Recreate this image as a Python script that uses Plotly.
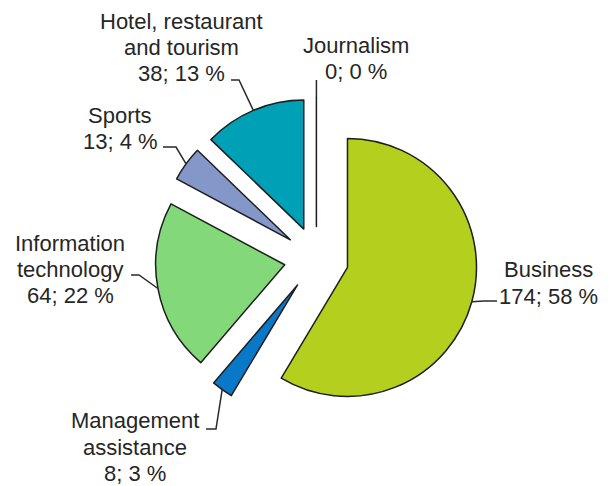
import math
import plotly.graph_objects as go

# ---- data ----
categories = ["Business", "Management assistance", "Information technology",
              "Sports", "Hotel, restaurant and tourism", "Journalism"]
label_lines = [["Business"], ["Management", "assistance"], ["Information", "technology"],
               ["Sports"], ["Hotel, restaurant", "and tourism"], ["Journalism"]]
values = [174, 8, 64, 13, 38, 0]
percents = [58, 3, 22, 4, 13, 0]

# ---- styles / layout ----
colors = ["#b4cf1e", "#0a78c8", "#83d979", "#8397c8", "#00a0b6", "#ffffff"]
W, H = 612, 486
CX, CY = 316.4, 258.8      # pie centre in pixels
R = 129                    # pie radius in pixels
PULL = 0.25
FONT = dict(family="Arial, Liberation Sans, sans-serif", size=22, color="#262626")
LINE_GAP = 26.3

# label centres (pixels) and leader-line start/elbow points (pixels)
label_pos = [(548, 283), (135, 447), (70, 269.5), (120, 128.5), (181, 47.5), (356, 58.5)]
leader_pts = [((497, 301), (484, 301)),
              ((206, 429), (216, 429)),
              ((131, 275), (139, 275)),
              ((163, 147), (176, 147)),
              ((231, 80), (239, 80)),
              ((CX, 80), (CX, 80))]

half = R * (1 + PULL)
fig = go.Figure(go.Pie(
    labels=categories, values=values, sort=False, direction="clockwise", rotation=0,
    pull=[PULL] * len(values),
    marker=dict(colors=colors, line=dict(color="#1e1e1e", width=1.5)),
    textinfo="none", showlegend=False,
    domain=dict(x=[(CX - half) / W, (CX + half) / W],
                y=[1 - (CY + half) / H, 1 - (CY - half) / H]),
))

def px(x, y):
    return x / W, 1 - y / H

total = sum(values)
cum = 0
shapes = []
annotations = []
for i, v in enumerate(values):
    a0 = cum / total * 360
    cum += v
    a1 = cum / total * 360
    mid = math.radians((a0 + a1) / 2)
    dx, dy = math.sin(mid), -math.cos(mid)
    ex = CX + PULL * R * dx + R * dx
    ey = CY + PULL * R * dy + R * dy
    (sx, sy), (bx, by) = leader_pts[i]
    p = [px(sx, sy), px(bx, by), px(ex, ey)]
    path = "M {:.4f},{:.4f} L {:.4f},{:.4f} L {:.4f},{:.4f}".format(
        p[0][0], p[0][1], p[1][0], p[1][1], p[2][0], p[2][1])
    shapes.append(dict(type="path", path=path, xref="paper", yref="paper",
                       line=dict(color="#2a2a2a", width=1.5)))
    lines = label_lines[i] + [f"{v}; {percents[i]} %"]
    lx, ly = label_pos[i]
    n = len(lines)
    for k, t in enumerate(lines):
        yk = ly + (k - (n - 1) / 2) * LINE_GAP
        annotations.append(dict(
            x=lx / W, y=1 - yk / H, xref="paper", yref="paper", text=t,
            showarrow=False, xanchor="center", yanchor="middle", align="center",
            borderpad=0, font=FONT))

fig.update_layout(
    width=W, height=H, margin=dict(l=0, r=0, t=0, b=0),
    paper_bgcolor="white", plot_bgcolor="white",
    shapes=shapes, annotations=annotations,
)
fig.write_html("out.html", config={"displayModeBar": False},
               post_script="document.body.style.margin='0';")
